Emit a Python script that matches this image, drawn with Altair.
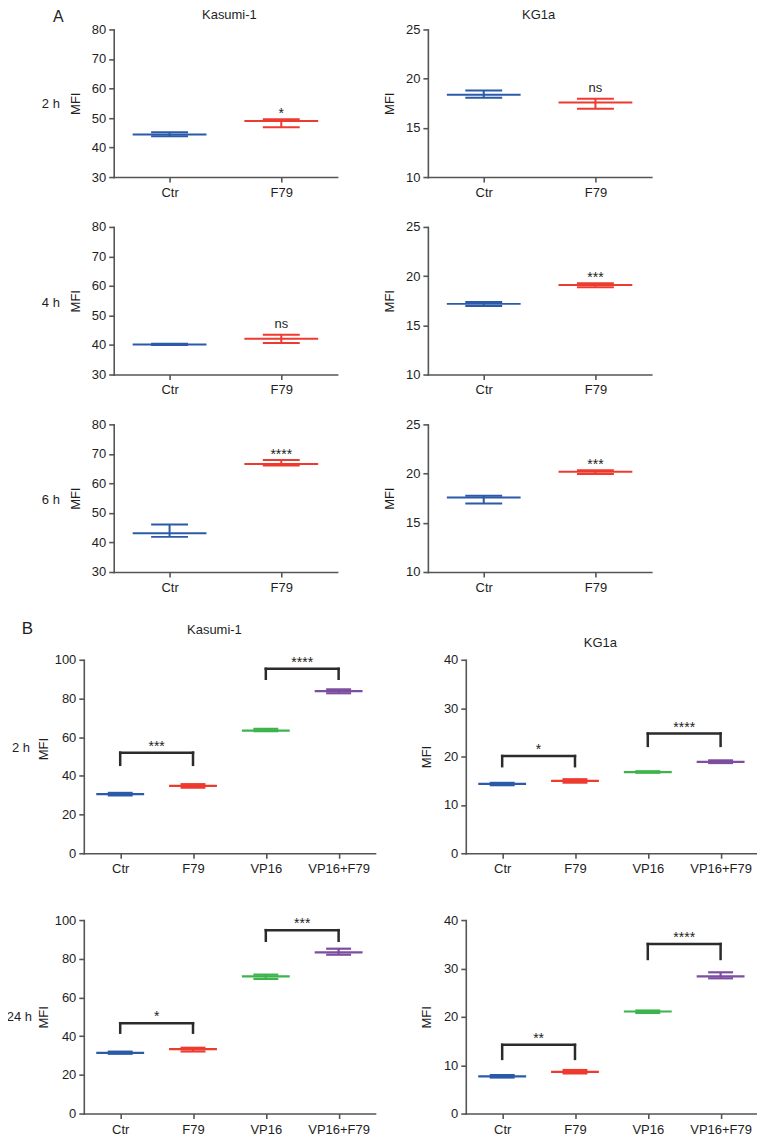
import json
import altair as alt
import pandas as pd

FONT = "Liberation Sans"
BLUE, RED, GREEN, PURPLE = "#2b5aa8", "#ee3b2f", "#3cb44b", "#7d4e9f"
INK = "#1e1e1e"
AXIS_C = "#555555"
BRACKET_C = "#2b2b2b"

# ---------------- data ----------------
A_GROUPS = ["Ctr", "F79"]
B_GROUPS = ["Ctr", "F79", "VP16", "VP16+F79"]
A_COLORS = [BLUE, RED]
B_COLORS = [BLUE, RED, GREEN, PURPLE]

# Panel A, Kasumi-1 (mean, lower, upper)
A_KAS_2H_MEAN = [44.4, 49.0]
A_KAS_2H_LO = [43.8, 46.9]
A_KAS_2H_HI = [45.2, 49.6]
A_KAS_4H_MEAN = [40.2, 42.1]
A_KAS_4H_LO = [40.0, 40.7]
A_KAS_4H_HI = [40.45, 43.5]
A_KAS_6H_MEAN = [43.1, 66.6]
A_KAS_6H_LO = [41.9, 66.05]
A_KAS_6H_HI = [46.1, 67.9]
A_KAS_SIG = ["*", "ns", "****"]

# Panel A, KG1a
A_KG_2H_MEAN = [18.37, 17.58]
A_KG_2H_LO = [18.06, 16.94]
A_KG_2H_HI = [18.8, 17.96]
A_KG_4H_MEAN = [17.18, 19.1]
A_KG_4H_LO = [16.96, 18.88]
A_KG_4H_HI = [17.36, 19.28]
A_KG_6H_MEAN = [17.58, 20.18]
A_KG_6H_LO = [16.97, 19.97]
A_KG_6H_HI = [17.75, 20.35]
A_KG_SIG = ["ns", "***", "***"]

# Panel B, Kasumi-1
B_KAS_2H_MEAN = [30.6, 34.8, 63.4, 83.8]
B_KAS_2H_LO = [29.9, 33.9, 63.1, 82.7]
B_KAS_2H_HI = [31.2, 35.7, 64.3, 84.7]
B_KAS_2H_BR_TOP = [52.0, 95.3]
B_KAS_2H_BR_LEG = [45.7, 90.2]
B_KAS_2H_SIG = ["***", "****"]
B_KAS_24H_MEAN = [31.4, 33.3, 70.9, 83.3]
B_KAS_24H_LO = [30.9, 32.1, 69.6, 82.1]
B_KAS_24H_HI = [32.0, 34.0, 71.8, 85.2]
B_KAS_24H_BR_TOP = [46.7, 94.8]
B_KAS_24H_BR_LEG = [41.8, 89.3]
B_KAS_24H_SIG = ["*", "***"]

# Panel B, KG1a
B_KG_2H_MEAN = [14.34, 14.97, 16.76, 18.9]
B_KG_2H_LO = [14.07, 14.6, 16.65, 18.65]
B_KG_2H_HI = [14.55, 15.3, 16.95, 19.2]
B_KG_2H_BR_TOP = [20.1, 24.75]
B_KG_2H_BR_LEG = [18.0, 22.2]
B_KG_2H_SIG = ["*", "****"]
B_KG_24H_MEAN = [7.69, 8.6, 21.1, 28.37]
B_KG_24H_LO = [7.45, 8.3, 20.8, 27.96]
B_KG_24H_HI = [7.95, 9.0, 21.3, 29.2]
B_KG_24H_BR_TOP = [14.2, 35.05]
B_KG_24H_BR_LEG = [11.3, 31.96]
B_KG_24H_SIG = ["**", "****"]

BR_PAIRS = [(0, 1), (2, 3)]

A_KAS_TICKS = [30, 40, 50, 60, 70, 80]
A_KG_TICKS = [10, 15, 20, 25]
B_KAS_TICKS = [0, 20, 40, 60, 80, 100]
B_KG_TICKS = [0, 10, 20, 30, 40]

A_PLOT_W, A_PLOT_H = 224, 148
B_PLOT_W, B_PLOT_H = 292, 194


def text_layer(text, x, y, size=13, align="center"):
    return alt.Chart(pd.DataFrame({"t": [text]})).mark_text(
        font=FONT, fontSize=size, align=align, baseline="alphabetic", color=INK
    ).encode(text="t:N", x=alt.value(x), y=alt.value(y))


def panel(groups, mean, lo, hi, colors, domain, ticks, plot_w, plot_h,
          left_pad=0, top_pad=0, mean_w=74, cap_w=37, stroke=2.0,
          title_x=-34, title_dy=0, sig=None, brackets=None, labels=()):
    n = len(groups)
    W = left_pad + plot_w
    H = top_pad + plot_h
    df = pd.DataFrame({"i": list(range(n)), "mean": mean, "lo": lo, "hi": hi, "c": colors})
    xs = alt.Scale(domain=[-0.5, n - 0.5], range=[left_pad, W], nice=False, zero=False)
    ys = alt.Scale(domain=domain, range=[H, top_pad], nice=False, zero=False)
    xaxis = alt.Axis(values=list(range(n)), labelExpr=json.dumps(groups) + "[datum.value]",
                     title=None, labelFlush=False, labelPadding=4.5)
    yaxis = alt.Axis(values=ticks, title="MFI", offset=-left_pad, titleX=title_x,
                     titleY=top_pad + plot_h / 2 + title_dy, titleAngle=270,
                     titleAlign="center", titleBaseline="alphabetic",
                     labelFlush=False, labelPadding=3)
    X = alt.X("i:Q", scale=xs, axis=xaxis)
    C = alt.Color("c:N", scale=None)

    def Y(f):
        return alt.Y(f + ":Q", scale=ys, axis=yaxis)

    base = alt.Chart(df)
    tick_kw = dict(orient="horizontal", thickness=stroke, opacity=1)
    layers = [
        base.mark_rule(strokeWidth=stroke, opacity=1).encode(x=X, y=Y("lo"), y2="hi:Q", color=C),
        base.mark_tick(size=mean_w, **tick_kw).encode(x=X, y=Y("mean"), color=C),
        base.mark_tick(size=cap_w, **tick_kw).encode(x=X, y=Y("lo"), color=C),
        base.mark_tick(size=cap_w, **tick_kw).encode(x=X, y=Y("hi"), color=C),
    ]
    if sig is not None:
        sdf = pd.DataFrame({"i": [n - 1], "y": [hi[n - 1]], "t": [sig]})
        dy = -6.5 if sig == "ns" else -1.5
        size = 13 if sig == "ns" else 14
        layers.append(alt.Chart(sdf).mark_text(font=FONT, fontSize=size, baseline="alphabetic",
                                               color=INK, dy=dy)
                      .encode(x=X, y=Y("y"), text="t:N"))
    if brackets is not None:
        top, leg, sigs = brackets
        bdf = pd.DataFrame({
            "x1": [p[0] for p in BR_PAIRS], "x2": [p[1] for p in BR_PAIRS],
            "xm": [(p[0] + p[1]) / 2 for p in BR_PAIRS],
            "top": top, "leg": leg, "t": sigs})
        bb = alt.Chart(bdf)
        rule_kw = dict(strokeWidth=2.5, color=BRACKET_C, strokeCap="square", opacity=1)
        layers += [
            bb.mark_rule(**rule_kw).encode(x=alt.X("x1:Q", scale=xs, axis=xaxis), x2="x2:Q", y=Y("top")),
            bb.mark_rule(**rule_kw).encode(x=alt.X("x1:Q", scale=xs, axis=xaxis), y=Y("leg"), y2="top:Q"),
            bb.mark_rule(**rule_kw).encode(x=alt.X("x2:Q", scale=xs, axis=xaxis), y=Y("leg"), y2="top:Q"),
            bb.mark_text(font=FONT, fontSize=14, baseline="alphabetic", color=INK, dy=-2)
              .encode(x=alt.X("xm:Q", scale=xs, axis=xaxis), y=Y("top"), text="t:N"),
        ]
    for lab in labels:
        layers.append(text_layer(*lab))
    return alt.layer(*layers).properties(width=W, height=H)


A_LEFT_PAD = 30
B_RIGHT_PAD = 38
B1_TOP, B2_TOP = 38, 17
akw = dict(plot_w=A_PLOT_W, plot_h=A_PLOT_H, mean_w=74, cap_w=37)
bkw = dict(plot_w=B_PLOT_W, plot_h=B_PLOT_H, mean_w=48, cap_w=25, stroke=2.2)

charts = [
    panel(A_GROUPS, A_KAS_2H_MEAN, A_KAS_2H_LO, A_KAS_2H_HI, A_COLORS, [30, 80], A_KAS_TICKS,
          left_pad=A_LEFT_PAD, sig=A_KAS_SIG[0],
          labels=[("A", -25.5, -7, 16), ("Kasumi-1", 146, -10, 13), ("2 h", -24, 79, 13, "right")], **akw),
    panel(A_GROUPS, A_KG_2H_MEAN, A_KG_2H_LO, A_KG_2H_HI, A_COLORS, [10, 25], A_KG_TICKS,
          sig=A_KG_SIG[0], labels=[("KG1a", 111, -10, 13)], **akw),
    panel(A_GROUPS, A_KAS_4H_MEAN, A_KAS_4H_LO, A_KAS_4H_HI, A_COLORS, [30, 80], A_KAS_TICKS,
          left_pad=A_LEFT_PAD, sig=A_KAS_SIG[1], labels=[("4 h", -24, 80, 13, "right")], **akw),
    panel(A_GROUPS, A_KG_4H_MEAN, A_KG_4H_LO, A_KG_4H_HI, A_COLORS, [10, 25], A_KG_TICKS,
          sig=A_KG_SIG[1], **akw),
    panel(A_GROUPS, A_KAS_6H_MEAN, A_KAS_6H_LO, A_KAS_6H_HI, A_COLORS, [30, 80], A_KAS_TICKS,
          left_pad=A_LEFT_PAD, sig=A_KAS_SIG[2], labels=[("6 h", -24, 80, 13, "right")], **akw),
    panel(A_GROUPS, A_KG_6H_MEAN, A_KG_6H_LO, A_KG_6H_HI, A_COLORS, [10, 25], A_KG_TICKS,
          sig=A_KG_SIG[2], **akw),
    panel(B_GROUPS, B_KAS_2H_MEAN, B_KAS_2H_LO, B_KAS_2H_HI, B_COLORS, [0, 100], B_KAS_TICKS,
          top_pad=B1_TOP, title_x=-36, title_dy=-8,
          brackets=(B_KAS_2H_BR_TOP, B_KAS_2H_BR_LEG, B_KAS_2H_SIG),
          labels=[("B", -56.5, 12, 17), ("Kasumi-1", 131, 12, 13), ("2 h", -54, 130, 13, "right")], **bkw),
    panel(B_GROUPS, B_KG_2H_MEAN, B_KG_2H_LO, B_KG_2H_HI, B_COLORS, [0, 40], B_KG_TICKS,
          left_pad=B_RIGHT_PAD, top_pad=B1_TOP, title_x=-35,
          brackets=(B_KG_2H_BR_TOP, B_KG_2H_BR_LEG, B_KG_2H_SIG),
          labels=[("KG1a", 173, 25, 13)], **bkw),
    panel(B_GROUPS, B_KAS_24H_MEAN, B_KAS_24H_LO, B_KAS_24H_HI, B_COLORS, [0, 100], B_KAS_TICKS,
          top_pad=B2_TOP, title_x=-36,
          brackets=(B_KAS_24H_BR_TOP, B_KAS_24H_BR_LEG, B_KAS_24H_SIG),
          labels=[("24 h", -52, 118, 13, "right")], **bkw),
    panel(B_GROUPS, B_KG_24H_MEAN, B_KG_24H_LO, B_KG_24H_HI, B_COLORS, [0, 40], B_KG_TICKS,
          left_pad=B_RIGHT_PAD, top_pad=B2_TOP, title_x=-35,
          brackets=(B_KG_24H_BR_TOP, B_KG_24H_BR_LEG, B_KG_24H_SIG), **bkw),
]

chart = alt.concat(
    *charts, columns=2,
    spacing={"row": 50, "column": 53},
    bounds="flush",
    align="each",
    padding={"top": 0, "left": -2, "right": 0, "bottom": 0},
).configure_view(strokeWidth=0).configure_axis(
    grid=False, domainColor=AXIS_C, domainWidth=1.6, domainCap="square",
    tickColor=AXIS_C, tickWidth=1.6, tickSize=5,
    labelFont=FONT, labelFontSize=13, labelColor=INK,
    titleFont=FONT, titleFontSize=13, titleColor=INK, titleFontWeight="normal",
)

chart.save("out.html", embed_options={"renderer": "svg", "actions": False})
